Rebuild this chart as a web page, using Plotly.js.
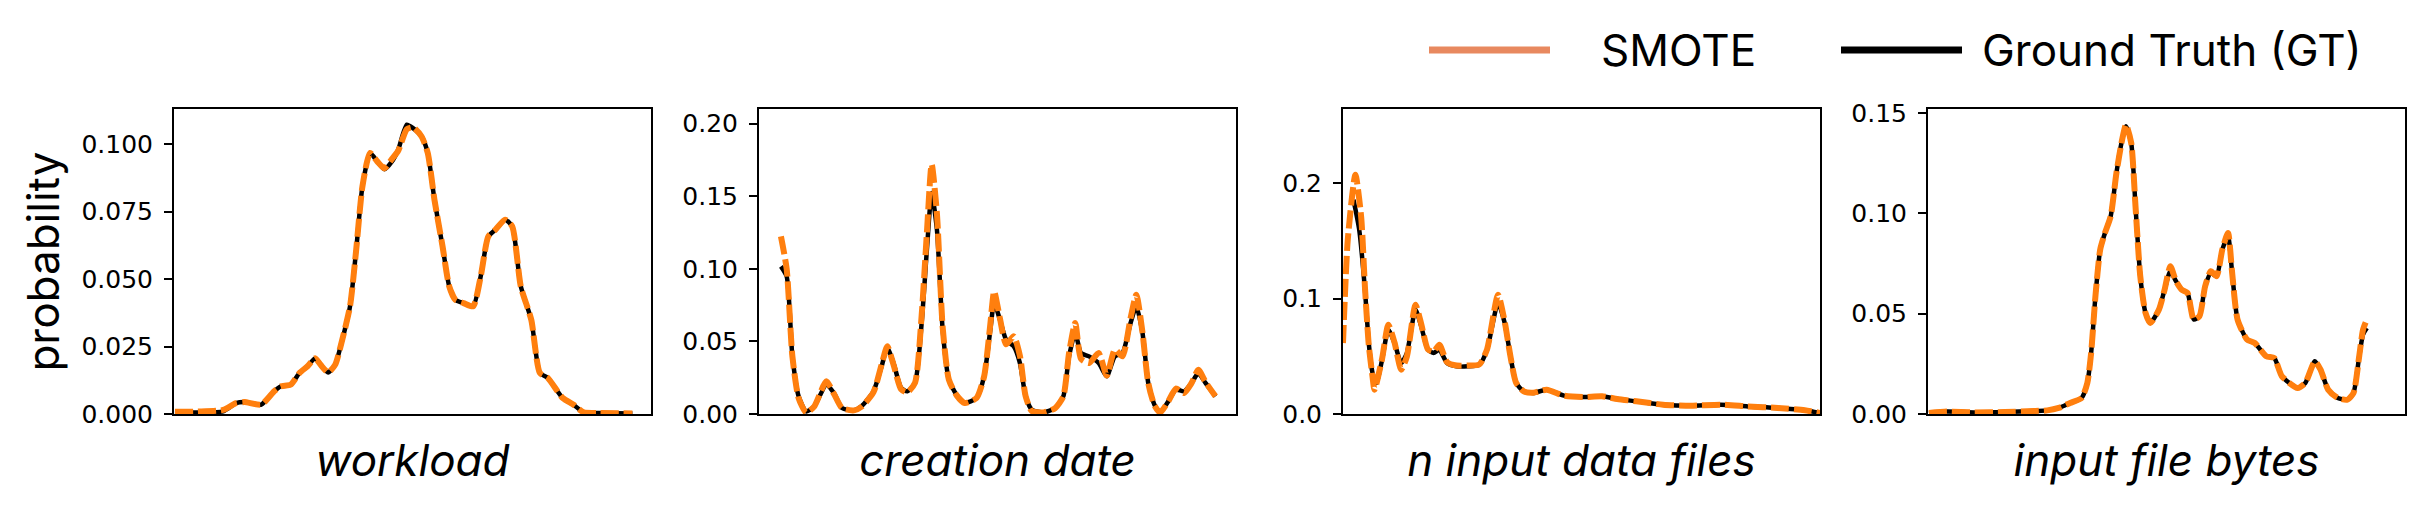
<!DOCTYPE html>
<html>
<head>
<meta charset="utf-8">
<script src="https://cdn.plot.ly/plotly-3.0.1.min.js"></script>
<style>
  html, body { margin: 0; padding: 0; background: white; }
  #chart { width: 2424px; height: 522px; }
</style>
</head>
<body>
<div id="chart"></div>
<script>
// x positions are in % of each panel's width
var workload_x = [0.2,5,10.3,13,14.8,18.3,21,22.3,24.5,26.3,28,29.6,30.7,32.3,33.8,35.1,36.9,38.2,39.5,41.1,42.6,44.1,45.7,47,48.8,50.1,51.9,53.2,54.6,56.3,57.7,59,60.7,62.7,64.3,65.9,67.4,69.4,70.9,72.7,74.9,76.7,78.4,81.5,83.7,85.9,89,96.1];
var workload_gt = [0.0006,0.0006,0.001,0.004,0.0044,0.0035,0.0084,0.0102,0.0109,0.0152,0.0177,0.0207,0.0183,0.0154,0.0183,0.0263,0.0399,0.0609,0.0843,0.0967,0.0936,0.0907,0.0936,0.0979,0.1072,0.1059,0.1028,0.0967,0.0794,0.0621,0.0473,0.0423,0.0411,0.0399,0.0510,0.0658,0.0683,0.0720,0.0695,0.0473,0.0349,0.0152,0.0133,0.0059,0.0035,0.0006,0.0004,0.0002];
var workload_smote = [0.0008,0.0009,0.0015,0.004,0.0044,0.0035,0.0084,0.0102,0.0109,0.0152,0.0177,0.0207,0.0183,0.0154,0.0183,0.0263,0.0399,0.0609,0.0843,0.0967,0.0936,0.0910,0.0945,0.0975,0.1055,0.1062,0.1028,0.0967,0.0794,0.0621,0.0473,0.0423,0.0411,0.0399,0.0510,0.0658,0.0683,0.0720,0.0695,0.0473,0.0349,0.0152,0.0133,0.0059,0.0035,0.0006,0.0004,0.0002];

var creation_x = [4.6,5.8,7.0,8.3,9.9,11.6,14.1,15.7,17.4,19.9,21.5,24,25.7,26.9,28.2,29.8,31.1,32.7,34.1,35.2,36.2,37.3,38.5,39.8,41.4,43.1,45.6,47.2,48.5,49.3,50.5,51.8,53.4,54.7,55.9,57.2,59.7,62.1,63.8,65,66.3,67.5,69.2,71.2,72.9,74.6,76.2,77.9,79.1,80.4,81.6,82.9,84.1,85.8,87.4,89.1,90.7,92.1,93.6,95.7];
var creation_gt = [0.1017,0.0948,0.0397,0.0122,0.0018,0.0053,0.0202,0.0145,0.0041,0.0025,0.0053,0.0156,0.0328,0.0455,0.0351,0.0179,0.0156,0.0214,0.0627,0.1132,0.1523,0.1270,0.0581,0.0237,0.0133,0.0076,0.0110,0.0260,0.0581,0.0765,0.0650,0.0512,0.0466,0.0351,0.0122,0.0030,0.0011,0.0041,0.0122,0.0397,0.0558,0.0420,0.0397,0.0351,0.0260,0.0397,0.0420,0.0627,0.0742,0.0558,0.0214,0.0064,0.0011,0.0087,0.0168,0.0156,0.0214,0.0282,0.0214,0.0122];
var creation_smote = [0.1224,0.1000,0.0397,0.0110,0.0010,0.0053,0.0225,0.0140,0.0041,0.0025,0.0050,0.0150,0.0340,0.0466,0.0340,0.0170,0.0150,0.0214,0.0680,0.1250,0.1720,0.1380,0.0600,0.0237,0.0130,0.0076,0.0110,0.0260,0.0620,0.0845,0.0660,0.0480,0.0535,0.0400,0.0122,0.0020,0.0011,0.0041,0.0122,0.0420,0.0627,0.0380,0.0351,0.0420,0.0265,0.0443,0.0397,0.0660,0.0822,0.0560,0.0214,0.0060,0.0010,0.0087,0.0175,0.0145,0.0214,0.0305,0.0220,0.0122];

var ninput_x_gt = [2.2,3.4,4.6,5.4,6.2,7,8.2,9.5,10.8,12.2,13.4,15.2,16.4,17.8,19,20.2,21.8,23.8,26.2,28.6,30.2,32.5,33.9,35.1,36.3,37.9,39.9,42.7,46.3,50.3,54.3,57.5,61.5,67.1,72.8,79.2,84.8,91.2,96.8,100];
var ninput_gt = [0.1857,0.1597,0.1077,0.0615,0.0355,0.0269,0.0471,0.0731,0.0615,0.0442,0.0529,0.0904,0.0760,0.0557,0.0529,0.0557,0.0442,0.0413,0.0413,0.0427,0.0557,0.0962,0.0789,0.0500,0.0269,0.0196,0.0182,0.0211,0.0159,0.0147,0.0153,0.0130,0.0110,0.0081,0.0072,0.0081,0.0066,0.0052,0.0032,0.0009];
var ninput_x_smote = [0,1,2.6,3.8,4.6,5.4,6.2,6.6,8.2,9.5,10.8,12.2,13.4,15.2,16.4,17.8,19,20.2,21.8,23.8,26.2,28.6,30.2,32.5,33.9,35.1,36.3,37.9,39.9,42.7,46.3,50.3,54.3,57.5,61.5,67.1,72.8,79.2,84.8,91.2,96.8,100];
var ninput_smote = [0.0615,0.1510,0.2074,0.1710,0.1100,0.0600,0.0320,0.0211,0.0480,0.0774,0.0620,0.0384,0.0500,0.0947,0.0780,0.0560,0.0540,0.0601,0.0450,0.0420,0.0420,0.0430,0.0560,0.1034,0.0800,0.0500,0.0269,0.0196,0.0185,0.0211,0.0159,0.0147,0.0153,0.0130,0.0110,0.0081,0.0072,0.0081,0.0066,0.0052,0.0032,0.0009];

var bytes_x = [0.2,4,9.6,16.1,22.5,25,27.4,29.8,32.2,33.4,34.2,35.1,36.1,37.1,38.3,39.5,40.7,41.5,42.6,43.5,44.5,45.6,46.6,48.4,49.6,50.8,52,53.2,54.4,55.7,56.9,58.1,59.3,60.5,61.7,62.9,63.7,64.9,66.9,68.5,70.9,72.6,74.2,77.5,79.1,81.1,82.3,83.9,85.9,87.9,89.2,90.4,91.2,92];
var bytes_gt = [0.0005,0.0012,0.0008,0.0010,0.0015,0.0018,0.0030,0.0055,0.0080,0.0155,0.0304,0.0587,0.0820,0.0903,0.0986,0.1202,0.1368,0.1435,0.1352,0.1036,0.0687,0.0504,0.0454,0.0520,0.0620,0.0712,0.0662,0.0620,0.0604,0.0471,0.0487,0.0637,0.0703,0.0687,0.0820,0.0886,0.0720,0.0471,0.0371,0.0354,0.0288,0.0279,0.0188,0.0130,0.0155,0.0263,0.0221,0.0121,0.0080,0.0071,0.0105,0.0288,0.0396,0.0429];
var bytes_smote = [0.0005,0.0012,0.0008,0.0010,0.0015,0.0018,0.0030,0.0055,0.0080,0.0155,0.0304,0.0587,0.0820,0.0903,0.0986,0.1202,0.1368,0.1443,0.1352,0.1036,0.0687,0.0504,0.0454,0.0520,0.0620,0.0737,0.0662,0.0620,0.0604,0.0471,0.0487,0.0637,0.0712,0.0687,0.0820,0.0903,0.0720,0.0471,0.0371,0.0354,0.0288,0.0279,0.0188,0.0130,0.0155,0.0263,0.0221,0.0121,0.0080,0.0071,0.0105,0.0288,0.0420,0.0471];

var panel_titles = ['workload', 'creation date', 'n input data files', 'input file bytes'];
var y_max = [0.113, 0.2101, 0.2643, 0.1521];
var y_ticks = [[0, 0.025, 0.05, 0.075, 0.1], [0, 0.05, 0.1, 0.15, 0.2], [0, 0.1, 0.2], [0, 0.05, 0.1, 0.15]];
var y_fmt = ['.3f', '.2f', '.1f', '.2f'];
var legend_names = ['SMOTE', 'Ground Truth (GT)'];

var gt_x = [workload_x, creation_x, ninput_x_gt, bytes_x];
var gt_y = [workload_gt, creation_gt, ninput_gt, bytes_gt];
var sm_x = [workload_x, creation_x, ninput_x_smote, bytes_x];
var sm_y = [workload_smote, creation_smote, ninput_smote, bytes_smote];

// panel edges in px of the 2424 wide figure
var W = 2424, H = 522;
var left_px = [174, 759, 1343, 1928];
var panel_w = 477;
var label_font = 'Inter, "Open Sans", sans-serif';

var data = [];
var layout = {
  width: W, height: H,
  margin: {l: 0, r: 0, t: 0, b: 0},
  paper_bgcolor: 'white',
  plot_bgcolor: 'white',
  showlegend: false,
  font: {family: '"DejaVu Sans", sans-serif', color: 'black'},
  shapes: [],
  annotations: []
};

for (var i = 0; i < 4; i++) {
  var sfx = i === 0 ? '' : String(i + 1);
  data.push({
    x: gt_x[i], y: gt_y[i], xaxis: 'x' + sfx, yaxis: 'y' + sfx,
    type: 'scatter', mode: 'lines', name: legend_names[1],
    line: {color: 'black', width: 4.5, shape: 'spline', smoothing: 0.6}
  });
  data.push({
    x: sm_x[i], y: sm_y[i], xaxis: 'x' + sfx, yaxis: 'y' + sfx,
    type: 'scatter', mode: 'lines', name: legend_names[0],
    line: {color: '#ff7f0e', width: 6, dash: '18px,5px', shape: 'spline', smoothing: 0.6}
  });
  layout['xaxis' + sfx] = {
    domain: [left_px[i] / W, (left_px[i] + panel_w) / W],
    anchor: 'y' + sfx,
    range: [0, 100],
    showticklabels: false, ticks: '', showgrid: false, zeroline: false,
    showline: true, mirror: true, linecolor: 'black', linewidth: 2,
    title: {text: panel_titles[i], standoff: 30,
            font: {family: label_font, size: 44, style: 'italic', color: 'black'}}
  };
  layout['yaxis' + sfx] = {
    domain: [(H - 414) / H, (H - 109) / H],
    anchor: 'x' + sfx,
    range: [0, y_max[i]],
    tickvals: y_ticks[i], tickformat: y_fmt[i],
    ticks: 'outside', ticklen: 8, tickwidth: 2, tickcolor: 'black',
    ticklabelstandoff: 6,
    tickfont: {size: 25, color: 'black'},
    showgrid: false, zeroline: false,
    showline: true, mirror: true, linecolor: 'black', linewidth: 2
  };
}
layout.yaxis.title = {text: 'probability', standoff: 8,
                      font: {family: label_font, size: 44, color: 'black'}};

// figure legend keys, like matplotlib fig.legend with custom handles
var key_color = ['#E8895F', 'black'];
var key_x0 = [1429, 1841];
var key_len = 121;
var key_text_x = [1599, 1980];
var key_y = (H - 50) / H;
for (var k = 0; k < 2; k++) {
  layout.shapes.push({
    type: 'line', xref: 'paper', yref: 'paper',
    x0: key_x0[k] / W, x1: (key_x0[k] + key_len) / W, y0: key_y, y1: key_y,
    line: {color: key_color[k], width: 7}
  });
  layout.annotations.push({
    xref: 'paper', yref: 'paper', x: key_text_x[k] / W, y: key_y,
    xanchor: 'left', yanchor: 'middle', showarrow: false,
    text: legend_names[k], font: {family: label_font, size: 44, color: 'black'}
  });
}

Plotly.newPlot('chart', data, layout, {staticPlot: true, displayModeBar: false});
</script>
</body>
</html>
